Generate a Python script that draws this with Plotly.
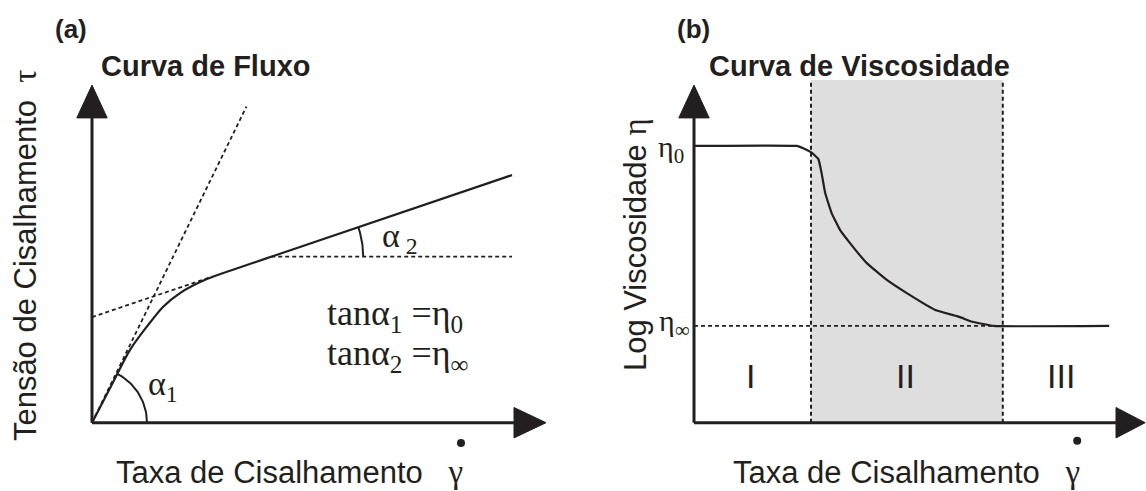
import numpy as np
import plotly.graph_objects as go

INK = "#231f20"
SHADE = "#dedede"

# ---------------- Panel (a): Curva de Fluxo ----------------
flow_rate = [0, 0.53, 0.95, 1.37, 1.78, 2.20, 2.87, 3.45, 4.48, 10.5]
flow_stress = [0, 1.02, 1.82, 2.40, 2.90, 3.24, 3.59, 3.80, 4.15, 6.19]

tangent0_x = [0, 3.86]
tangent0_y = [0, 7.90]
tangentinf_x = [0, 3.0]
tangentinf_y = [2.64, 3.65]
horiz_x = [4.48, 10.5]
horiz_y = [4.15, 4.15]

alpha1_center = (0.0, 0.0)
alpha1_radius = 1.375
alpha1_deg = 63.8
alpha2_center = (4.48, 4.15)
alpha2_radius = 2.3
alpha2_deg = 18.7

a_yaxis_top, a_yaxis_base = 8.44, 7.62
a_xaxis_tip, a_xaxis_base = 11.35, 10.55

# ---------------- Panel (b): Curva de Viscosidade ----------------
visc_rate = [0, 2.57, 2.73, 2.94, 3.11, 3.19, 3.28, 3.44, 3.65, 3.90, 4.32,
             4.82, 5.32, 6.03, 6.65, 6.93, 7.49, 10.38]
visc_log = [6.92, 6.92, 6.86, 6.75, 6.59, 6.24, 5.74, 5.24, 4.82, 4.49, 3.99,
            3.57, 3.24, 2.82, 2.64, 2.53, 2.42, 2.42]
eta0_level = 6.92
etainf_level = 2.42
region_bounds = [2.925, 7.72]
region_top = 8.57
region_labels = ["I", "II", "III"]
region_label_x = [1.42, 5.29, 9.17]
region_label_y = 1.17

b_yaxis_top, b_yaxis_base = 8.44, 7.62
b_xaxis_tip, b_xaxis_base = 11.28, 10.55

fig = go.Figure()


def line(x, y, xa, ya, width=2, dash=None):
    fig.add_trace(go.Scatter(x=x, y=y, mode="lines", xaxis=xa, yaxis=ya,
                             line=dict(color=INK, width=width, dash=dash),
                             hoverinfo="skip", showlegend=False))


def tri(x, y, xa, ya):
    fig.add_trace(go.Scatter(x=x, y=y, mode="lines", fill="toself",
                             fillcolor=INK, xaxis=xa, yaxis=ya,
                             line=dict(color=INK, width=1),
                             hoverinfo="skip", showlegend=False))


def arc(center, r, deg, xa, ya):
    t = np.radians(np.linspace(0, deg, 40))
    line(center[0] + r * np.cos(t), center[1] + r * np.sin(t), xa, ya, width=2)


half = 0.38

# ---- Panel (a) ----
line([0, 0], [0, a_yaxis_base], "x", "y", width=3)
tri([0, -half, half, 0], [a_yaxis_top, a_yaxis_base, a_yaxis_base, a_yaxis_top], "x", "y")
line([0, a_xaxis_base], [0, 0], "x", "y", width=3)
tri([a_xaxis_tip, a_xaxis_base, a_xaxis_base, a_xaxis_tip], [0, half, -half, 0], "x", "y")

line(tangent0_x, tangent0_y, "x", "y", width=1.8, dash="4px,3px")
line(tangentinf_x, tangentinf_y, "x", "y", width=1.8, dash="4px,3px")
line(horiz_x, horiz_y, "x", "y", width=1.8, dash="4px,3px")
fig.add_trace(go.Scatter(x=flow_rate, y=flow_stress, mode="lines", xaxis="x", yaxis="y",
                         line=dict(color=INK, width=2.2, shape="spline", smoothing=0.8),
                         hoverinfo="skip", showlegend=False))
arc(alpha1_center, alpha1_radius, alpha1_deg, "x", "y")
arc(alpha2_center, alpha2_radius, alpha2_deg, "x", "y")

# ---- Panel (b) ----
fig.add_trace(go.Scatter(x=[region_bounds[0], region_bounds[1], region_bounds[1], region_bounds[0], region_bounds[0]],
                         y=[0, 0, region_top, region_top, 0], mode="lines", fill="toself",
                         fillcolor=SHADE, line=dict(width=0), xaxis="x2", yaxis="y",
                         hoverinfo="skip", showlegend=False))
for bx in region_bounds:
    line([bx, bx], [0, region_top], "x2", "y", width=2, dash="4px,3px")
line([0, visc_rate[-2]], [etainf_level, etainf_level], "x2", "y", width=1.8, dash="4px,3px")
line([0, 0], [0, b_yaxis_base], "x2", "y", width=3)
tri([0, -half, half, 0], [b_yaxis_top, b_yaxis_base, b_yaxis_base, b_yaxis_top], "x2", "y")
line([0, b_xaxis_base], [0, 0], "x2", "y", width=3)
tri([b_xaxis_tip, b_xaxis_base, b_xaxis_base, b_xaxis_tip], [0, half, -half, 0], "x2", "y")
fig.add_trace(go.Scatter(x=visc_rate, y=visc_log, mode="lines", xaxis="x2", yaxis="y",
                         line=dict(color=INK, width=2.2, shape="spline", smoothing=0.3),
                         hoverinfo="skip", showlegend=False))

# dots over gamma
fig.add_trace(go.Scatter(x=[9.225], y=[-0.51], mode="markers", xaxis="x", yaxis="y",
                         marker=dict(color=INK, size=8), hoverinfo="skip", showlegend=False))
fig.add_trace(go.Scatter(x=[9.58], y=[-0.45], mode="markers", xaxis="x2", yaxis="y",
                         marker=dict(color=INK, size=8), hoverinfo="skip", showlegend=False))

SANS = "Liberation Sans, Arial, sans-serif"
SERIF = "Liberation Serif, Times New Roman, serif"


def serif(ch):
    return "<span style='font-family:Liberation Serif;font-size:33px'>" + ch + "</span>"


ann = []


def text(t, x, y, xref, size, font=SANS, angle=0, xanchor="center", bold=False):
    if bold:
        t = "<b>" + t + "</b>"
    ann.append(dict(text=t, x=x, y=y, xref=xref, yref="y", showarrow=False,
                    font=dict(family=font, size=size, color=INK),
                    textangle=angle, xanchor=xanchor, yanchor="middle"))


# Panel (a) text
text("(a)", -0.53, 9.84, "x", 26, bold=True)
text("Curva de Fluxo", 2.84, 8.92, "x", 29, bold=True)
text("Tensão de Cisalhamento  " + serif("τ"), -1.675, 4.19, "x", 31, angle=-90)
text("Taxa de Cisalhamento   " + serif("γ"), 4.925, -1.24, "x", 31)
text("α<sub>1</sub>", 1.78, 0.92, "x", 34, font=SERIF)
text("α<sub> 2</sub>", 7.7, 4.62, "x", 34, font=SERIF)
text("tanα<sub>1</sub> =η<sub>0</sub>", 5.83, 2.69, "x", 36, font=SERIF, xanchor="left")
text("tanα<sub>2</sub> =η<sub>∞</sub>", 5.83, 1.69, "x", 36, font=SERIF, xanchor="left")

# Panel (b) text
text("(b)", -0.01, 9.84, "x2", 26, bold=True)
text("Curva de Viscosidade", 4.125, 8.92, "x2", 29, bold=True)
text("Log Viscosidade " + serif("η"), -1.475, 4.44, "x2", 31, angle=-90)
text("Taxa de Cisalhamento   " + serif("γ"), 5.315, -1.24, "x2", 31)
text("η<sub>0</sub>", -0.575, 6.84, "x2", 30, font=SERIF)
text("η<sub>∞</sub>", -0.49, 2.5, "x2", 30, font=SERIF)
for lab, lx in zip(region_labels, region_label_x):
    text(lab, lx, region_label_y, "x2", 34)

fig.update_layout(
    width=1146, height=491,
    margin=dict(l=0, r=0, t=0, b=0),
    paper_bgcolor="white", plot_bgcolor="white",
    xaxis=dict(domain=[0, 0.5], range=[-2.3, 12.025], visible=False, fixedrange=True),
    xaxis2=dict(domain=[0.5, 1], range=[-3.025, 11.3], visible=False, fixedrange=True),
    yaxis=dict(domain=[0, 1], range=[-1.7075, 10.5675], visible=False, fixedrange=True),
    annotations=ann,
    showlegend=False,
)

fig.write_html("out.html", config={"displayModeBar": False},
               post_script="document.body.style.margin='0';document.body.style.overflow='hidden';")
